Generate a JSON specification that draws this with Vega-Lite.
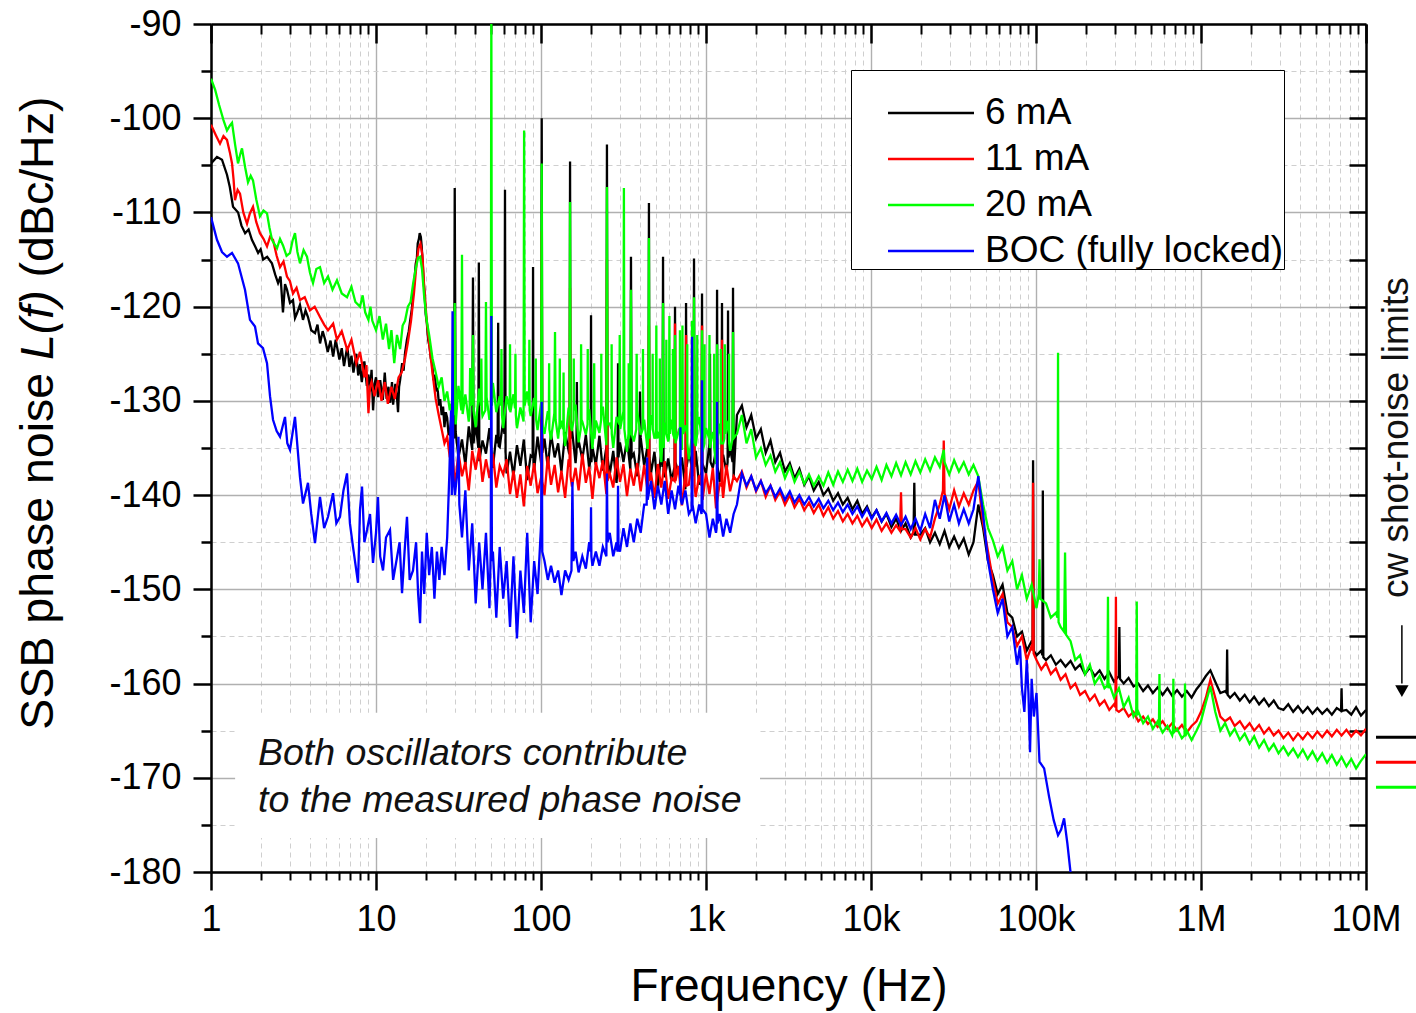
{
"$schema": "https://vega.github.io/schema/vega-lite/v6.json",
"width": 1155, "height": 848,
"autosize": {"type": "none"},
"padding": {"left": 211, "top": 24, "right": 50, "bottom": 141},
"background": "white",
"config": {
  "view": {"stroke": null},
  "font": "Liberation Sans",
  "axis": {"labelFont": "Liberation Sans", "titleFont": "Liberation Sans", "labelColor": "#000", "titleColor": "#000", "tickColor": "#000", "domainColor": "#000", "titleFontWeight": "normal"}
},
"resolve": {"axis": {"x": "independent", "y": "independent"}},
"layer": [
{
  "data": {"values": [{"f1": 1.40, "f2": 2125, "L1": -163.1, "L2": -176.4}]},
  "mark": {"type": "rect", "fill": "white", "stroke": null},
  "encoding": {
    "x": {"field": "f1", "type": "quantitative", "scale": {"type": "log", "domain": [1, 10000000], "nice": false}, "axis": null},
    "x2": {"field": "f2"},
    "y": {"field": "L1", "type": "quantitative", "scale": {"domain": [-180, -90], "nice": false, "zero": false}, "axis": null},
    "y2": {"field": "L2"}
  }
},
{
  "data": {"values": [
{"f":1.0,"L":-104.8},{"f":1.087,"L":-104.1},{"f":1.166,"L":-104.4},{"f":1.25,"L":-106.0},{"f":1.30,"L":-107.3},{"f":1.36,"L":-109.4},{"f":1.46,"L":-110.0},{"f":1.53,"L":-111.4},{"f":1.61,"L":-112.2},{"f":1.69,"L":-111.8},{"f":1.77,"L":-112.9},{"f":1.85,"L":-113.6},{"f":1.93,"L":-114.3},{"f":2.0,"L":-113.9},{"f":2.07,"L":-115.0},{"f":2.19,"L":-114.7},{"f":2.34,"L":-115.4},{"f":2.45,"L":-116.6},{"f":2.55,"L":-117.5},{"f":2.64,"L":-116.8},{"f":2.73,"L":-120.6},{"f":2.81,"L":-117.6},{"f":2.89,"L":-118.2},{"f":3.01,"L":-119.6},{"f":3.14,"L":-119.3},{"f":3.23,"L":-121.2},{"f":3.32,"L":-120.7},{"f":3.46,"L":-119.8},{"f":3.61,"L":-121.4},{"f":3.74,"L":-120.4},{"f":3.87,"L":-121.1},{"f":4.05,"L":-122.5},{"f":4.27,"L":-122.8},{"f":4.42,"L":-121.9},{"f":4.58,"L":-123.9},{"f":4.75,"L":-122.6},{"f":4.9,"L":-123.4},{"f":5.1,"L":-124.8},{"f":5.3,"L":-123.6},{"f":5.5,"L":-125.3},{"f":5.7,"L":-123.5},{"f":6.0,"L":-125.6},{"f":6.2,"L":-124.4},{"f":6.4,"L":-126.3},{"f":6.7,"L":-124.2},{"f":6.9,"L":-126.4},{"f":7.1,"L":-125.2},{"f":7.3,"L":-127.0},{"f":7.6,"L":-125.0},{"f":7.8,"L":-127.3},{"f":8.0,"L":-126.1},{"f":8.2,"L":-128.0},{"f":8.5,"L":-125.8},{"f":8.8,"L":-128.4},{"f":9.0,"L":-127.2},{"f":9.2,"L":-129.0},{"f":9.4,"L":-126.7},{"f":9.6,"L":-131.0},{"f":9.8,"L":-128.2},{"f":10.0,"L":-127.5},{"f":10.3,"L":-129.6},{"f":10.6,"L":-127.8},{"f":11.0,"L":-129.9},{"f":11.3,"L":-127.0},{"f":11.6,"L":-129.8},{"f":11.9,"L":-128.5},{"f":12.2,"L":-130.2},{"f":12.5,"L":-128.0},{"f":12.7,"L":-130.4},{"f":13.1,"L":-128.2},{"f":13.4,"L":-129.6},{"f":13.6,"L":-131.2},{"f":13.8,"L":-128.5},{"f":14.0,"L":-127.8},{"f":14.4,"L":-126.0},{"f":14.7,"L":-126.8},{"f":15.0,"L":-124.9},{"f":15.4,"L":-123.5},{"f":15.8,"L":-122.6},{"f":16.1,"L":-121.5},{"f":16.5,"L":-120.2},{"f":16.8,"L":-118.5},{"f":17.1,"L":-117.2},{"f":17.4,"L":-115.5},{"f":17.7,"L":-114.8},{"f":17.9,"L":-113.3},{"f":18.2,"L":-112.8},{"f":18.4,"L":-112.2},{"f":18.7,"L":-112.6},{"f":18.9,"L":-113.5},{"f":19.2,"L":-115.4},{"f":19.4,"L":-117.0},{"f":19.7,"L":-118.6},{"f":20.0,"L":-120.8},{"f":20.3,"L":-121.6},{"f":20.7,"L":-123.5},{"f":21.1,"L":-124.2},{"f":21.5,"L":-125.5},{"f":21.9,"L":-126.0},{"f":22.3,"L":-127.8},{"f":22.7,"L":-127.2},{"f":23.2,"L":-129.0},{"f":23.6,"L":-128.6},{"f":24.1,"L":-130.5},{"f":24.5,"L":-129.8},{"f":25.0,"L":-131.5},{"f":25.5,"L":-130.6},{"f":26.0,"L":-132.8},{"f":26.5,"L":-131.2},{"f":27.0,"L":-131.8},{"f":27.5,"L":-133.5},{"f":28.0,"L":-133.6},{"f":28.5,"L":-132.0},{"f":29.0,"L":-132.5},{"f":29.7,"L":-134.0},{"f":30.0,"L":-107.4},{"f":30.4,"L":-133.3},
{"f":31.6,"L":-136.0},{"f":33.2,"L":-134.1},{"f":34.8,"L":-136.8},{"f":36.5,"L":-132.7},{"f":38.3,"L":-135.2},{"f":38.7,"L":-116.9},{"f":39.0,"L":-134.5},{"f":40.2,"L":-132.4},{"f":41.7,"L":-135.0},{"f":42.0,"L":-115.3},{"f":42.3,"L":-136.4},{"f":44.2,"L":-134.2},{"f":46.4,"L":-135.6},{"f":48.7,"L":-132.9},{"f":51.1,"L":-137.1},{"f":53.6,"L":-133.6},{"f":54.6,"L":-134.5},{"f":55.0,"L":-121.7},{"f":55.4,"L":-134.8},{"f":56.2,"L":-134.9},{"f":59.0,"L":-132.1},{"f":60.0,"L":-133.5},{"f":60.5,"L":-107.6},{"f":61.0,"L":-135.5},{"f":61.9,"L":-137.7},{"f":64.9,"L":-135.4},{"f":68.1,"L":-138.0},{"f":71.5,"L":-134.7},{"f":75.0,"L":-136.9},{"f":78.7,"L":-134.1},{"f":82.5,"L":-138.4},{"f":86.6,"L":-135.8},{"f":89.0,"L":-136.0},{"f":89.5,"L":-115.8},{"f":90.0,"L":-136.5},{"f":90.9,"L":-137.3},{"f":95.3,"L":-133.8},{"f":100.2,"L":-136.6},{"f":101,"L":-100.0},{"f":101.8,"L":-135.5},{"f":105,"L":-134.0},{"f":110,"L":-137.1},{"f":115,"L":-133.5},{"f":121,"L":-136.0},{"f":127,"L":-134.5},{"f":133,"L":-137.5},{"f":140,"L":-133.3},{"f":147,"L":-135.3},{"f":149,"L":-135.0},{"f":150,"L":-104.6},{"f":151,"L":-134.0},{"f":154,"L":-133.0},{"f":162,"L":-136.6},{"f":164,"L":-135.5},{"f":165,"L":-128.0},{"f":166,"L":-135.0},{"f":169,"L":-134.2},{"f":178,"L":-136.2},{"f":187,"L":-133.6},{"f":196,"L":-137.2},{"f":200,"L":-136.0},{"f":201,"L":-120.9},{"f":202,"L":-136.5},{"f":205,"L":-134.9},{"f":215,"L":-136.8},{"f":226,"L":-133.7},{"f":237,"L":-137.4},{"f":249,"L":-134.9},{"f":251,"L":-102.8},{"f":253,"L":-136.0},{"f":261,"L":-137.8},{"f":274,"L":-135.3},{"f":287,"L":-138.7},{"f":291,"L":-137.0},{"f":293,"L":-126.0},{"f":295,"L":-136.0},{"f":301,"L":-134.4},{"f":316,"L":-136.5},{"f":332,"L":-134.1},{"f":348,"L":-137.3},{"f":351,"L":-114.7},{"f":354,"L":-136.0},{"f":365,"L":-135.6},{"f":383,"L":-138.0},{"f":395,"L":-135.5},{"f":398,"L":-129.0},{"f":402,"L":-133.9},{"f":422,"L":-136.9},{"f":442,"L":-134.8},{"f":448,"L":-136.0},{"f":451,"L":-109.0},{"f":454,"L":-136.0},{"f":464,"L":-137.7},{"f":487,"L":-135.4},{"f":511,"L":-139.3},{"f":536,"L":-135.2},{"f":545,"L":-137.0},{"f":549,"L":-114.7},{"f":553,"L":-137.5},{"f":562,"L":-138.1},{"f":590,"L":-136.1},{"f":619,"L":-138.5},{"f":645,"L":-137.0},{"f":649,"L":-120.0},{"f":653,"L":-136.5},{"f":681,"L":-137.7},{"f":715,"L":-136.0},{"f":750,"L":-139.4},{"f":752,"L":-138.0},{"f":757,"L":-119.6},{"f":762,"L":-137.0},{"f":787,"L":-135.5},{"f":825,"L":-137.2},{"f":840,"L":-136.5},{"f":846,"L":-114.9},{"f":852,"L":-137.0},{"f":866,"L":-135.3},{"f":909,"L":-138.9},{"f":940,"L":-137.5},{"f":946,"L":-118.6},{"f":950,"L":-136.5},{"f":953,"L":-136.7},{"f":1000,"L":-137.7},{"f":1050,"L":-134.5},{"f":1057,"L":-125.0},{"f":1065,"L":-136.5},{"f":1100,"L":-137.1},{"f":1150,"L":-135.2},{"f":1160,"L":-136.0},{"f":1167,"L":-118.2},{"f":1175,"L":-137.0},{"f":1210,"L":-138.6},{"f":1242,"L":-137.0},{"f":1250,"L":-119.6},{"f":1258,"L":-136.5},{"f":1270,"L":-135.7},{"f":1330,"L":-137.5},{"f":1352,"L":-136.5},{"f":1360,"L":-120.4},{"f":1368,"L":-136.0},{"f":1400,"L":-135.1},{"f":1449,"L":-136.5},{"f":1458,"L":-118.0},{"f":1470,"L":-138.1},
{"f":1540,"L":-131.5},{"f":1650,"L":-130.5},{"f":1760,"L":-132.8},{"f":1880,"L":-131.5},{"f":2010,"L":-134.0},{"f":2150,"L":-133.0},{"f":2300,"L":-135.5},{"f":2460,"L":-134.2},{"f":2630,"L":-136.5},{"f":2810,"L":-135.5},{"f":3010,"L":-137.5},{"f":3220,"L":-136.6},{"f":3440,"L":-138.2},{"f":3680,"L":-137.2},{"f":3940,"L":-138.9},{"f":4210,"L":-138.0},{"f":4500,"L":-139.5},{"f":4820,"L":-138.6},{"f":5150,"L":-140.0},{"f":5510,"L":-139.3},{"f":5900,"L":-140.6},{"f":6310,"L":-139.8},{"f":6750,"L":-141.0},{"f":7220,"L":-140.3},{"f":7720,"L":-141.5},{"f":8260,"L":-140.6},{"f":8840,"L":-142.0},{"f":9460,"L":-141.2},{"f":10100,"L":-142.4},{"f":10800,"L":-141.6},{"f":11600,"L":-142.8},{"f":12400,"L":-142.0},{"f":13300,"L":-143.4},{"f":14200,"L":-142.5},{"f":15200,"L":-143.8},{"f":16200,"L":-143.0},{"f":17400,"L":-144.5},{"f":18100,"L":-144.0},{"f":18300,"L":-138.7},{"f":18500,"L":-144.2},{"f":19900,"L":-144.2},{"f":21300,"L":-143.5},{"f":22800,"L":-145.0},{"f":24400,"L":-144.0},{"f":26100,"L":-145.2},{"f":27900,"L":-143.8},{"f":29800,"L":-145.5},{"f":31900,"L":-144.4},{"f":34100,"L":-145.6},{"f":36500,"L":-144.6},{"f":39100,"L":-146.3},{"f":41800,"L":-145.0},{"f":44700,"L":-141.0},
{"f":47800,"L":-143.5},{"f":51200,"L":-147.0},{"f":54800,"L":-148.5},{"f":58600,"L":-150.5},{"f":62700,"L":-149.5},{"f":67100,"L":-152.5},{"f":71800,"L":-153.0},{"f":76800,"L":-155.0},{"f":82200,"L":-154.5},{"f":87900,"L":-156.5},{"f":94100,"L":-155.5},{"f":95300,"L":-156.0},{"f":96000,"L":-136.3},{"f":96800,"L":-156.5},{"f":100700,"L":-157.0},{"f":107700,"L":-156.5},{"f":109300,"L":-157.0},{"f":110000,"L":-139.5},{"f":110800,"L":-157.2},{"f":115000,"L":-157.5},{"f":123000,"L":-157.0},{"f":132000,"L":-158.0},{"f":141000,"L":-157.5},{"f":151000,"L":-158.2},{"f":162000,"L":-157.6},{"f":173000,"L":-158.5},{"f":185000,"L":-158.0},{"f":198000,"L":-159.0},{"f":212000,"L":-158.3},{"f":227000,"L":-159.2},{"f":243000,"L":-158.6},{"f":260000,"L":-159.5},{"f":278000,"L":-158.8},{"f":297000,"L":-159.8},{"f":318000,"L":-159.2},{"f":320000,"L":-154.0},{"f":323000,"L":-159.5},{"f":340000,"L":-160.0},{"f":364000,"L":-159.4},{"f":390000,"L":-160.3},{"f":417000,"L":-160.0},{"f":446000,"L":-160.8},{"f":477000,"L":-160.2},{"f":511000,"L":-161.0},{"f":546000,"L":-160.4},{"f":585000,"L":-161.2},{"f":626000,"L":-160.5},{"f":669000,"L":-161.3},{"f":716000,"L":-160.7},{"f":766000,"L":-161.4},{"f":820000,"L":-160.8},{"f":877000,"L":-161.5},{"f":939000,"L":-160.6},{"f":1000000,"L":-160.0},{"f":1070000,"L":-159.2},{"f":1140000,"L":-158.6},{"f":1220000,"L":-159.8},{"f":1310000,"L":-161.0},{"f":1400000,"L":-160.8},{"f":1430000,"L":-161.0},{"f":1440000,"L":-156.4},{"f":1450000,"L":-161.2},{"f":1500000,"L":-161.5},{"f":1600000,"L":-161.0},{"f":1720000,"L":-161.8},{"f":1840000,"L":-161.2},{"f":1970000,"L":-162.0},{"f":2100000,"L":-161.4},{"f":2250000,"L":-162.2},{"f":2410000,"L":-161.6},{"f":2580000,"L":-162.4},{"f":2760000,"L":-161.8},{"f":2950000,"L":-162.6},{"f":3160000,"L":-162.8},{"f":3380000,"L":-162.2},{"f":3620000,"L":-163.0},{"f":3870000,"L":-162.4},{"f":4140000,"L":-163.1},{"f":4430000,"L":-162.5},{"f":4740000,"L":-163.2},{"f":5070000,"L":-162.6},{"f":5430000,"L":-163.2},{"f":5810000,"L":-162.7},{"f":6210000,"L":-163.3},{"f":6650000,"L":-162.6},{"f":7060000,"L":-162.9},{"f":7110000,"L":-160.5},{"f":7160000,"L":-162.9},{"f":7610000,"L":-162.8},{"f":8140000,"L":-163.3},{"f":8710000,"L":-162.5},{"f":9320000,"L":-163.4},{"f":10000000,"L":-162.8}
  ]},
  "mark": {"type": "line", "strokeWidth": 2.3, "clip": true},
  "encoding": {
    "x": {"field": "f", "type": "quantitative", "scale": {"type": "log", "domain": [1, 10000000], "nice": false},
      "axis": {"orient": "bottom", "values": [1, 10, 100, 1000, 10000, 100000, 1000000, 10000000],
        "labelExpr": "datum.value >= 1000000 ? (datum.value/1000000) + 'M' : datum.value >= 1000 ? (datum.value/1000) + 'k' : '' + datum.value",
        "labelFontSize": 36, "labelPadding": 12, "labelFlush": false, "labelOverlap": false, "labelBound": false,
        "tickSize": 18, "tickWidth": 2.5, "domainWidth": 2.5, "grid": true, "gridColor": "#b0b0b0", "gridWidth": 1.4,
        "title": "Frequency (Hz)", "titleFontSize": 46, "titleY": 128, "titleBaseline": "alphabetic"}},
    "y": {"field": "L", "type": "quantitative", "scale": {"domain": [-180, -90], "nice": false, "zero": false},
      "axis": {"orient": "left", "values": [-180, -170, -160, -150, -140, -130, -120, -110, -100, -90],
        "labelExpr": "'' + datum.value", "labelFontSize": 36, "labelPadding": 12, "labelFlush": false, "labelOverlap": false,
        "tickSize": 18, "tickWidth": 2.5, "domainWidth": 2.5, "grid": true, "gridColor": "#b0b0b0", "gridWidth": 1.4,
        "title": "SSB phase noise", "titleFontSize": 46.5, "titleAngle": 270, "titleX": -159, "titleY": 526.75, "titleAlign": "center", "titleBaseline": "alphabetic"}},
    "color": {"datum": "6 mA", "type": "nominal",
      "scale": {"domain": ["6 mA", "11 mA", "20 mA", "BOC (fully locked)"], "range": ["#000000", "#ff0000", "#00ff00", "#0000ff"]},
      "legend": {"title": "\u00a0\u00a0\u00a0\u00a0\u00a0\u00a0\u00a0\u00a0\u00a0\u00a0\u00a0\u00a0\u00a0\u00a0\u00a0\u00a0\u00a0\u00a0\u00a0\u00a0\u00a0\u00a0\u00a0\u00a0\u00a0\u00a0\u00a0\u00a0\u00a0\u00a0\u00a0\u00a0\u00a0\u00a0\u00a0\u00a0\u00a0\u00a0\u00a0\u00a0\u00a0\u00a0\u00a0\u00a0\u00a0\u00a0\u00a0\u00a0\u00a0\u00a0\u00a0\u00a0\u00a0\u00a0\u00a0\u00a0\u00a0\u00a0\u00a0\u00a0\u00a0\u00a0\u00a0\u00a0\u00a0\u00a0\u00a0\u00a0\u00a0\u00a0\u00a0\u00a0\u00a0\u00a0\u00a0\u00a0\u00a0\u00a0\u00a0\u00a0\u00a0\u00a0\u00a0\u00a0\u00a0\u00a0\u00a0\u00a0\u00a0\u00a0\u00a0\u00a0\u00a0\u00a0\u00a0\u00a0\u00a0\u00a0\u00a0\u00a0\u00a0\u00a0\u00a0\u00a0\u00a0\u00a0\u00a0\u00a0\u00a0\u00a0\u00a0\u00a0\u00a0\u00a0\u00a0\u00a0\u00a0\u00a0\u00a0\u00a0\u00a0\u00a0\u00a0\u00a0\u00a0\u00a0\u00a0\u00a0\u00a0\u00a0\u00a0\u00a0\u00a0\u00a0\u00a0\u00a0\u00a0", "titleFontSize": 12, "titlePadding": 8, "titleLimit": 2000, "orient": "none", "legendX": 640, "legendY": 46, "padding": 0, "strokeColor": "#000", "fillColor": "#fff",
        "labelFont": "Liberation Sans", "labelFontSize": 37, "labelColor": "#000", "labelOffset": 88, "labelLimit": 600,
        "symbolType": "M0.651,0H4.651", "symbolSize": 1849, "symbolStrokeWidth": 2.5, "rowPadding": 5}}
  }
},
{
  "data": {"values": [
{"f":1.0,"L":-100.7},{"f":1.07,"L":-101.8},{"f":1.134,"L":-102.7},{"f":1.19,"L":-101.9},{"f":1.25,"L":-102.3},{"f":1.30,"L":-103.6},{"f":1.341,"L":-104.8},{"f":1.37,"L":-106.5},{"f":1.398,"L":-108.7},{"f":1.45,"L":-107.6},{"f":1.499,"L":-108.0},{"f":1.57,"L":-110.0},{"f":1.653,"L":-111.2},{"f":1.72,"L":-110.1},{"f":1.797,"L":-109.4},{"f":1.88,"L":-111.0},{"f":1.98,"L":-112.2},{"f":2.08,"L":-112.8},{"f":2.185,"L":-113.6},{"f":2.28,"L":-112.6},{"f":2.376,"L":-112.9},{"f":2.5,"L":-114.6},{"f":2.62,"L":-115.8},{"f":2.75,"L":-115.2},{"f":2.887,"L":-116.8},{"f":3.01,"L":-117.3},{"f":3.14,"L":-118.6},{"f":3.3,"L":-118.0},{"f":3.462,"L":-119.3},{"f":3.7,"L":-119.0},{"f":3.98,"L":-120.4},{"f":4.25,"L":-120.0},{"f":4.577,"L":-121.1},{"f":4.85,"L":-121.9},{"f":5.119,"L":-122.5},{"f":5.5,"L":-121.8},{"f":5.8,"L":-123.5},{"f":6.2,"L":-122.6},{"f":6.7,"L":-124.6},{"f":7.1,"L":-123.5},{"f":7.6,"L":-126.0},{"f":8.0,"L":-124.8},{"f":8.5,"L":-127.5},{"f":8.75,"L":-126.2},{"f":9.0,"L":-131.3},{"f":9.2,"L":-128.5},{"f":9.4,"L":-128.0},{"f":9.8,"L":-129.5},{"f":10.3,"L":-127.8},{"f":10.8,"L":-130.0},{"f":11.3,"L":-128.0},{"f":11.8,"L":-130.3},{"f":12.4,"L":-128.5},{"f":13.0,"L":-129.8},{"f":13.7,"L":-127.5},{"f":14.3,"L":-127.0},{"f":15.0,"L":-125.5},{"f":15.6,"L":-123.8},{"f":16.3,"L":-121.5},{"f":17.0,"L":-118.5},{"f":17.6,"L":-115.5},{"f":18.1,"L":-113.8},{"f":18.6,"L":-113.3},{"f":19.1,"L":-114.5},{"f":19.6,"L":-118.0},{"f":20.3,"L":-121.5},{"f":21.0,"L":-124.0},{"f":22.0,"L":-127.0},{"f":23.0,"L":-129.8},{"f":24.0,"L":-131.5},{"f":25.0,"L":-133.0},{"f":26.0,"L":-134.5},{"f":27.0,"L":-133.8},{"f":28.0,"L":-136.0},{"f":29.0,"L":-135.2},
{"f":30.1,"L":-139.1},{"f":31.6,"L":-135.5},{"f":33.2,"L":-138.0},{"f":34.8,"L":-136.5},{"f":36.5,"L":-139.5},{"f":38.3,"L":-135.3},{"f":40.2,"L":-137.3},{"f":42.2,"L":-135.0},{"f":44.2,"L":-138.6},{"f":46.4,"L":-136.2},{"f":48.7,"L":-138.2},{"f":51.1,"L":-135.6},{"f":53.6,"L":-139.2},{"f":56.2,"L":-136.9},{"f":59.0,"L":-137.8},{"f":61.9,"L":-136.2},{"f":64.9,"L":-139.9},{"f":68.1,"L":-137.4},{"f":71.5,"L":-140.3},{"f":75.0,"L":-137.8},{"f":78.7,"L":-141.2},{"f":82.5,"L":-136.9},{"f":86.6,"L":-139.0},{"f":90.9,"L":-136.6},{"f":95.3,"L":-139.8},{"f":100.2,"L":-138.1},{"f":101,"L":-112.0},{"f":101.8,"L":-138.5},{"f":105,"L":-140.0},{"f":110,"L":-135.9},{"f":115,"L":-138.9},{"f":121,"L":-136.8},{"f":127,"L":-139.7},{"f":133,"L":-137.4},{"f":140,"L":-140.3},{"f":147,"L":-136.2},{"f":149,"L":-137.0},{"f":150,"L":-118.0},{"f":151,"L":-138.0},{"f":154,"L":-139.1},{"f":162,"L":-137.1},{"f":169,"L":-139.5},{"f":178,"L":-135.6},{"f":187,"L":-138.7},{"f":196,"L":-137.0},{"f":205,"L":-140.4},{"f":215,"L":-136.5},{"f":226,"L":-138.2},{"f":237,"L":-136.3},{"f":249,"L":-139.9},{"f":251,"L":-115.0},{"f":253,"L":-138.5},{"f":261,"L":-137.7},{"f":274,"L":-139.2},{"f":287,"L":-136.0},{"f":301,"L":-138.6},{"f":316,"L":-136.7},{"f":332,"L":-140.1},{"f":348,"L":-137.2},{"f":365,"L":-139.0},{"f":383,"L":-136.6},{"f":402,"L":-139.6},{"f":422,"L":-136.8},{"f":442,"L":-139.5},{"f":448,"L":-138.0},{"f":451,"L":-122.0},{"f":454,"L":-138.5},{"f":464,"L":-137.6},{"f":487,"L":-140.3},{"f":511,"L":-136.7},{"f":536,"L":-139.2},{"f":562,"L":-136.4},{"f":590,"L":-140.4},{"f":619,"L":-138.2},{"f":645,"L":-138.5},{"f":649,"L":-121.8},{"f":653,"L":-138.5},{"f":681,"L":-136.9},{"f":715,"L":-141.1},{"f":750,"L":-137.6},{"f":752,"L":-138.5},{"f":757,"L":-123.0},{"f":762,"L":-139.0},{"f":787,"L":-138.9},{"f":825,"L":-136.1},{"f":840,"L":-138.0},{"f":846,"L":-125.0},{"f":852,"L":-139.0},{"f":866,"L":-140.2},{"f":909,"L":-137.9},{"f":940,"L":-139.0},{"f":946,"L":-122.0},{"f":950,"L":-139.5},{"f":953,"L":-140.5},{"f":1000,"L":-137.7},{"f":1050,"L":-139.9},{"f":1100,"L":-137.1},{"f":1150,"L":-141.4},{"f":1210,"L":-138.8},{"f":1242,"L":-139.0},{"f":1250,"L":-123.5},{"f":1258,"L":-139.5},{"f":1270,"L":-140.3},{"f":1330,"L":-136.8},{"f":1400,"L":-139.6},{"f":1470,"L":-138.0},
{"f":1540,"L":-138.5},{"f":1650,"L":-137.5},{"f":1760,"L":-139.2},{"f":1880,"L":-138.0},{"f":2010,"L":-139.6},{"f":2150,"L":-138.5},{"f":2300,"L":-140.2},{"f":2460,"L":-139.0},{"f":2630,"L":-140.5},{"f":2810,"L":-139.6},{"f":3010,"L":-141.0},{"f":3220,"L":-140.0},{"f":3440,"L":-141.3},{"f":3680,"L":-140.4},{"f":3940,"L":-141.6},{"f":4210,"L":-140.8},{"f":4500,"L":-141.9},{"f":4820,"L":-141.0},{"f":5150,"L":-142.2},{"f":5510,"L":-141.3},{"f":5900,"L":-142.5},{"f":6310,"L":-141.7},{"f":6750,"L":-142.8},{"f":7220,"L":-142.0},{"f":7720,"L":-143.0},{"f":8260,"L":-142.2},{"f":8840,"L":-143.3},{"f":9460,"L":-142.5},{"f":10100,"L":-143.5},{"f":10800,"L":-142.6},{"f":11600,"L":-143.8},{"f":12400,"L":-143.0},{"f":13300,"L":-144.0},{"f":14200,"L":-143.2},{"f":15000,"L":-143.8},{"f":15200,"L":-139.7},{"f":15400,"L":-143.6},{"f":16200,"L":-143.6},{"f":17400,"L":-144.5},{"f":18600,"L":-143.5},{"f":19900,"L":-144.7},{"f":21300,"L":-143.6},{"f":22800,"L":-144.5},{"f":24400,"L":-142.5},{"f":26100,"L":-141.0},{"f":27300,"L":-139.5},{"f":27600,"L":-134.2},{"f":27900,"L":-139.8},{"f":29800,"L":-141.5},{"f":31900,"L":-139.5},{"f":34100,"L":-141.2},{"f":36500,"L":-139.8},{"f":39100,"L":-141.0},{"f":41800,"L":-139.5},{"f":44700,"L":-138.5},
{"f":47800,"L":-143.0},{"f":51200,"L":-146.0},{"f":54800,"L":-149.0},{"f":58600,"L":-151.5},{"f":62700,"L":-150.5},{"f":67100,"L":-153.5},{"f":71800,"L":-154.0},{"f":76800,"L":-156.0},{"f":82200,"L":-155.0},{"f":87900,"L":-157.5},{"f":94100,"L":-156.0},{"f":95300,"L":-156.5},{"f":96000,"L":-138.7},{"f":96800,"L":-156.8},{"f":100700,"L":-157.5},{"f":107700,"L":-158.5},{"f":115000,"L":-157.8},{"f":123000,"L":-159.0},{"f":132000,"L":-158.4},{"f":141000,"L":-159.6},{"f":151000,"L":-159.0},{"f":162000,"L":-160.5},{"f":173000,"L":-160.0},{"f":185000,"L":-161.2},{"f":198000,"L":-160.8},{"f":212000,"L":-161.8},{"f":227000,"L":-161.2},{"f":243000,"L":-162.3},{"f":260000,"L":-161.8},{"f":278000,"L":-162.8},{"f":297000,"L":-162.2},{"f":303000,"L":-162.5},{"f":305000,"L":-150.8},{"f":307000,"L":-162.8},{"f":318000,"L":-163.0},{"f":340000,"L":-162.6},{"f":364000,"L":-163.5},{"f":390000,"L":-163.0},{"f":417000,"L":-164.0},{"f":446000,"L":-163.5},{"f":477000,"L":-164.3},{"f":511000,"L":-163.8},{"f":546000,"L":-164.6},{"f":585000,"L":-164.0},{"f":626000,"L":-164.8},{"f":669000,"L":-164.2},{"f":716000,"L":-165.0},{"f":766000,"L":-164.4},{"f":820000,"L":-165.2},{"f":877000,"L":-164.5},{"f":939000,"L":-164.0},{"f":1000000,"L":-163.0},{"f":1070000,"L":-161.5},{"f":1140000,"L":-159.6},{"f":1220000,"L":-161.5},{"f":1310000,"L":-163.5},{"f":1400000,"L":-164.0},{"f":1500000,"L":-163.6},{"f":1600000,"L":-164.5},{"f":1720000,"L":-164.0},{"f":1840000,"L":-164.8},{"f":1970000,"L":-164.2},{"f":2100000,"L":-165.0},{"f":2250000,"L":-164.4},{"f":2410000,"L":-165.3},{"f":2580000,"L":-164.7},{"f":2760000,"L":-165.5},{"f":2950000,"L":-165.0},{"f":3160000,"L":-165.8},{"f":3380000,"L":-165.2},{"f":3620000,"L":-166.0},{"f":3870000,"L":-165.3},{"f":4140000,"L":-165.9},{"f":4430000,"L":-165.2},{"f":4740000,"L":-165.8},{"f":5070000,"L":-165.1},{"f":5430000,"L":-165.7},{"f":5810000,"L":-165.0},{"f":6210000,"L":-165.6},{"f":6650000,"L":-164.9},{"f":7110000,"L":-165.5},{"f":7610000,"L":-164.9},{"f":8140000,"L":-165.6},{"f":8710000,"L":-165.0},{"f":9320000,"L":-165.5},{"f":10000000,"L":-164.8}
  ]},
  "mark": {"type": "line", "strokeWidth": 2.3, "clip": true},
  "encoding": {
    "x": {"field": "f", "type": "quantitative", "scale": {"type": "log", "domain": [1, 10000000], "nice": false},
      "axis": {"orient": "bottom", "values": [2,3,4,5,6,7,8,9,20,30,40,50,60,70,80,90,200,300,400,500,600,700,800,900,2000,3000,4000,5000,6000,7000,8000,9000,20000,30000,40000,50000,60000,70000,80000,90000,200000,300000,400000,500000,600000,700000,800000,900000,2000000,3000000,4000000,5000000,6000000,7000000,8000000,9000000],
        "labels": false, "domain": false, "tickSize": 8, "tickWidth": 2, "grid": true, "gridColor": "#cfcfcf", "gridDash": [5, 4], "gridWidth": 1, "title": null}},
    "y": {"field": "L", "type": "quantitative", "scale": {"domain": [-180, -90], "nice": false, "zero": false},
      "axis": {"orient": "left", "values": [-175, -165, -155, -145, -135, -125, -115, -105, -95],
        "labels": false, "domain": false, "tickSize": 10, "tickWidth": 2.5, "grid": true, "gridColor": "#cfcfcf", "gridDash": [5, 4], "gridWidth": 1,
        "title": "L(f)", "titleFontSize": 46.5, "titleFontStyle": "italic", "titleAngle": 270, "titleX": -159, "titleY": 300.7, "titleAlign": "center", "titleBaseline": "alphabetic"}},
    "color": {"datum": "11 mA", "type": "nominal", "scale": {"domain": ["6 mA", "11 mA", "20 mA", "BOC (fully locked)"], "range": ["#000000", "#ff0000", "#00ff00", "#0000ff"]}}
  }
},
{
  "data": {"values": [
{"f":1.0,"L":-95.8},{"f":1.06,"L":-97.0},{"f":1.12,"L":-98.6},{"f":1.19,"L":-100.2},{"f":1.25,"L":-101.3},{"f":1.30,"L":-100.8},{"f":1.341,"L":-100.5},{"f":1.40,"L":-102.8},{"f":1.458,"L":-104.8},{"f":1.50,"L":-103.9},{"f":1.541,"L":-103.2},{"f":1.61,"L":-105.2},{"f":1.676,"L":-106.8},{"f":1.74,"L":-106.1},{"f":1.797,"L":-106.6},{"f":1.88,"L":-108.6},{"f":1.98,"L":-110.4},{"f":2.08,"L":-109.8},{"f":2.185,"L":-110.1},{"f":2.26,"L":-111.6},{"f":2.343,"L":-112.9},{"f":2.43,"L":-113.4},{"f":2.512,"L":-113.8},{"f":2.62,"L":-112.8},{"f":2.732,"L":-113.5},{"f":2.87,"L":-114.6},{"f":3.012,"L":-114.3},{"f":3.12,"L":-113.0},{"f":3.229,"L":-112.2},{"f":3.34,"L":-114.2},{"f":3.462,"L":-115.4},{"f":3.64,"L":-114.0},{"f":3.818,"L":-114.7},{"f":3.98,"L":-116.4},{"f":4.152,"L":-117.5},{"f":4.35,"L":-116.0},{"f":4.577,"L":-115.8},{"f":4.85,"L":-117.5},{"f":5.119,"L":-116.8},{"f":5.45,"L":-118.2},{"f":5.801,"L":-117.2},{"f":6.2,"L":-118.6},{"f":6.673,"L":-119.0},{"f":7.1,"L":-117.9},{"f":7.5,"L":-119.5},{"f":8.0,"L":-120.0},{"f":8.3,"L":-118.8},{"f":8.6,"L":-120.6},{"f":9.0,"L":-121.4},{"f":9.25,"L":-120.0},{"f":9.5,"L":-121.5},{"f":10.0,"L":-122.5},{"f":10.5,"L":-121.0},{"f":11.0,"L":-123.5},{"f":11.5,"L":-121.8},{"f":12.0,"L":-124.5},{"f":12.4,"L":-122.5},{"f":12.9,"L":-126.0},{"f":13.4,"L":-123.0},{"f":14.0,"L":-124.5},{"f":14.5,"L":-122.0},{"f":15.0,"L":-121.5},{"f":15.6,"L":-120.0},{"f":16.2,"L":-119.5},{"f":16.8,"L":-117.5},{"f":17.4,"L":-116.0},{"f":18.0,"L":-114.8},{"f":18.5,"L":-114.7},{"f":19.0,"L":-116.0},{"f":19.6,"L":-119.0},{"f":20.3,"L":-121.5},{"f":21.0,"L":-123.0},{"f":22.0,"L":-125.5},{"f":23.0,"L":-127.0},{"f":24.0,"L":-128.5},{"f":25.0,"L":-127.5},{"f":26.0,"L":-130.0},{"f":27.0,"L":-129.0},{"f":28.0,"L":-131.0},{"f":29.0,"L":-130.0},{"f":29.7,"L":-131.5},{"f":30.0,"L":-119.6},{"f":30.4,"L":-132.5},
{"f":31.6,"L":-128.4},{"f":32.9,"L":-131.0},{"f":33.2,"L":-114.5},{"f":33.5,"L":-131.4},{"f":34.8,"L":-129.3},{"f":36.5,"L":-132.2},{"f":36.9,"L":-131.5},{"f":37.2,"L":-126.5},{"f":37.5,"L":-130.5},{"f":38.3,"L":-129.9},{"f":38.7,"L":-123.0},{"f":39.0,"L":-131.0},{"f":40.2,"L":-132.8},{"f":42.2,"L":-128.7},{"f":43.2,"L":-130.5},{"f":43.5,"L":-125.5},{"f":43.8,"L":-131.0},{"f":44.2,"L":-131.6},{"f":46.0,"L":-131.0},{"f":46.4,"L":-119.5},{"f":46.8,"L":-129.6},{"f":48.7,"L":-132.0},{"f":49.6,"L":-131.5},{"f":50.0,"L":-88.0},{"f":50.4,"L":-130.5},{"f":51.1,"L":-128.1},{"f":53.6,"L":-131.2},{"f":56.2,"L":-129.5},{"f":57.2,"L":-130.5},{"f":57.6,"L":-124.5},{"f":58.0,"L":-131.5},{"f":59.0,"L":-132.9},{"f":61.9,"L":-129.5},{"f":64.6,"L":-131.0},{"f":64.9,"L":-124.0},{"f":65.2,"L":-131.2},{"f":68.1,"L":-129.3},{"f":69.6,"L":-130.8},{"f":70.0,"L":-125.0},{"f":70.4,"L":-131.5},{"f":71.5,"L":-132.9},{"f":75.0,"L":-130.7},{"f":78.4,"L":-132.2},{"f":79.0,"L":-101.3},{"f":79.6,"L":-130.5},{"f":82.5,"L":-129.0},{"f":84.6,"L":-130.5},{"f":85.0,"L":-123.5},{"f":85.4,"L":-131.0},{"f":86.6,"L":-131.6},{"f":90.9,"L":-129.7},{"f":92.6,"L":-131.0},{"f":93.0,"L":-125.5},{"f":93.4,"L":-132.0},{"f":95.3,"L":-133.1},{"f":100.2,"L":-130.2},{"f":101,"L":-104.8},{"f":101.8,"L":-132.5},{"f":105,"L":-133.5},{"f":110,"L":-131.1},{"f":111.6,"L":-132.0},{"f":112.0,"L":-126.0},{"f":112.4,"L":-133.0},{"f":115,"L":-134.1},{"f":120.5,"L":-131.3},{"f":121.6,"L":-122.7},{"f":122.6,"L":-132.0},{"f":127,"L":-134.0},{"f":129.5,"L":-132.5},{"f":130,"L":-125.5},{"f":130.5,"L":-133.0},{"f":133,"L":-132.1},{"f":136.5,"L":-133.0},{"f":137,"L":-127.0},{"f":137.5,"L":-133.5},{"f":140,"L":-134.8},{"f":147,"L":-130.7},{"f":149,"L":-131.5},{"f":150,"L":-108.9},{"f":151,"L":-132.5},{"f":154,"L":-133.2},{"f":157.5,"L":-132.0},{"f":158,"L":-125.5},{"f":158.5,"L":-131.0},{"f":162,"L":-130.4},{"f":169,"L":-134.4},{"f":174,"L":-133.0},{"f":175,"L":-124.0},{"f":176,"L":-132.0},{"f":178,"L":-132.2},{"f":187,"L":-133.6},{"f":191.5,"L":-132.5},{"f":192,"L":-124.5},{"f":192.5,"L":-132.0},{"f":196,"L":-130.9},{"f":205,"L":-135.1},{"f":209,"L":-133.0},{"f":210,"L":-126.0},{"f":211,"L":-134.0},{"f":215,"L":-132.1},{"f":226,"L":-133.4},{"f":231.5,"L":-132.0},{"f":232,"L":-125.0},{"f":232.5,"L":-131.5},{"f":237,"L":-130.6},{"f":249,"L":-134.7},{"f":251,"L":-107.3},{"f":253,"L":-132.5},{"f":261,"L":-132.4},{"f":267.5,"L":-133.0},{"f":268,"L":-124.0},{"f":268.5,"L":-133.5},{"f":274,"L":-135.0},{"f":287,"L":-131.7},{"f":298,"L":-132.5},{"f":300,"L":-123.0},{"f":302,"L":-133.0},{"f":316,"L":-131.1},{"f":318,"L":-107.4},{"f":320,"L":-133.0},{"f":332,"L":-135.4},{"f":339,"L":-133.5},{"f":340,"L":-126.0},{"f":341,"L":-134.0},{"f":348,"L":-132.8},{"f":351,"L":-118.2},{"f":354,"L":-133.5},{"f":365,"L":-134.3},{"f":378,"L":-133.0},{"f":380,"L":-125.0},{"f":382,"L":-131.0},{"f":402,"L":-133.6},{"f":414,"L":-133.0},{"f":415,"L":-124.5},{"f":416,"L":-132.5},{"f":422,"L":-132.0},{"f":442,"L":-135.1},{"f":448,"L":-133.0},{"f":451,"L":-112.7},{"f":454,"L":-134.0},{"f":464,"L":-131.5},{"f":474,"L":-132.5},{"f":475,"L":-125.0},{"f":476,"L":-133.0},{"f":487,"L":-134.0},{"f":497,"L":-133.5},{"f":500,"L":-122.0},{"f":503,"L":-134.0},{"f":511,"L":-133.5},{"f":524,"L":-134.0},{"f":525,"L":-125.5},{"f":526,"L":-135.0},{"f":536,"L":-136.5},{"f":545,"L":-134.0},{"f":549,"L":-119.6},{"f":553,"L":-135.0},{"f":562,"L":-132.3},{"f":574,"L":-133.0},{"f":575,"L":-123.5},{"f":576,"L":-133.5},{"f":590,"L":-134.3},{"f":596,"L":-134.0},{"f":600,"L":-121.0},{"f":604,"L":-133.5},{"f":619,"L":-132.0},{"f":629,"L":-133.0},{"f":630,"L":-124.5},{"f":631,"L":-133.5},{"f":645,"L":-134.0},{"f":649,"L":-123.0},{"f":653,"L":-134.5},{"f":681,"L":-133.2},{"f":694,"L":-133.5},{"f":695,"L":-122.5},{"f":696,"L":-134.0},{"f":715,"L":-135.2},{"f":720,"L":-122.0},{"f":725,"L":-133.5},{"f":750,"L":-132.6},{"f":769,"L":-133.5},{"f":770,"L":-124.0},{"f":771,"L":-134.5},{"f":787,"L":-136.2},{"f":818,"L":-134.0},{"f":823,"L":-121.5},{"f":827,"L":-133.5},{"f":840,"L":-134.5},{"f":846,"L":-119.0},{"f":852,"L":-134.0},{"f":866,"L":-134.8},{"f":884,"L":-133.5},{"f":885,"L":-123.0},{"f":886,"L":-132.5},{"f":909,"L":-131.7},{"f":940,"L":-134.0},{"f":946,"L":-122.5},{"f":950,"L":-134.5},{"f":953,"L":-135.4},{"f":979,"L":-134.5},{"f":980,"L":-124.0},{"f":981,"L":-134.0},{"f":1000,"L":-132.9},{"f":1046,"L":-134.0},{"f":1050,"L":-123.0},{"f":1055,"L":-135.0},{"f":1100,"L":-133.3},{"f":1119,"L":-134.0},{"f":1120,"L":-125.0},{"f":1121,"L":-135.0},{"f":1150,"L":-136.7},{"f":1160,"L":-135.0},{"f":1167,"L":-124.0},{"f":1175,"L":-134.0},{"f":1210,"L":-132.4},{"f":1229,"L":-133.5},{"f":1230,"L":-124.5},{"f":1231,"L":-134.5},{"f":1270,"L":-134.5},{"f":1293,"L":-134.0},{"f":1300,"L":-124.0},{"f":1307,"L":-133.5},{"f":1330,"L":-132.1},{"f":1379,"L":-133.5},{"f":1380,"L":-125.0},{"f":1381,"L":-134.5},{"f":1400,"L":-135.3},{"f":1449,"L":-134.0},{"f":1458,"L":-122.7},{"f":1467,"L":-134.0},
{"f":1540,"L":-133.5},{"f":1650,"L":-131.5},{"f":1760,"L":-134.5},{"f":1880,"L":-133.0},{"f":2010,"L":-136.0},{"f":2150,"L":-135.0},{"f":2300,"L":-136.8},{"f":2460,"L":-135.8},{"f":2630,"L":-137.5},{"f":2810,"L":-136.5},{"f":3010,"L":-138.2},{"f":3220,"L":-137.0},{"f":3440,"L":-138.6},{"f":3680,"L":-137.5},{"f":3940,"L":-138.8},{"f":4210,"L":-137.8},{"f":4500,"L":-139.0},{"f":4820,"L":-138.0},{"f":5150,"L":-139.0},{"f":5510,"L":-137.6},{"f":5900,"L":-138.9},{"f":6310,"L":-137.5},{"f":6750,"L":-138.6},{"f":7220,"L":-137.3},{"f":7720,"L":-138.5},{"f":8260,"L":-137.2},{"f":8840,"L":-138.6},{"f":9460,"L":-137.4},{"f":10100,"L":-138.3},{"f":10800,"L":-137.0},{"f":11600,"L":-138.4},{"f":12400,"L":-136.8},{"f":13300,"L":-138.0},{"f":14200,"L":-136.6},{"f":15200,"L":-137.9},{"f":16200,"L":-136.5},{"f":17400,"L":-137.8},{"f":18600,"L":-136.4},{"f":19900,"L":-137.6},{"f":21300,"L":-136.2},{"f":22800,"L":-137.4},{"f":24400,"L":-136.0},{"f":26100,"L":-137.0},{"f":27600,"L":-135.2},{"f":27900,"L":-136.5},{"f":29800,"L":-137.8},{"f":31900,"L":-136.3},{"f":34100,"L":-137.5},{"f":36500,"L":-136.5},{"f":39100,"L":-137.8},{"f":41800,"L":-136.8},{"f":44700,"L":-138.0},
{"f":47800,"L":-141.0},{"f":51200,"L":-143.5},{"f":54800,"L":-144.8},{"f":58600,"L":-146.5},{"f":62700,"L":-145.5},{"f":67100,"L":-148.0},{"f":71800,"L":-147.0},{"f":76800,"L":-150.0},{"f":82200,"L":-148.5},{"f":87900,"L":-151.0},{"f":94100,"L":-149.5},{"f":100700,"L":-152.0},{"f":104000,"L":-150.5},{"f":105000,"L":-146.8},{"f":106000,"L":-151.0},{"f":115000,"L":-151.5},{"f":123000,"L":-153.0},{"f":132000,"L":-152.5},{"f":135000,"L":-153.0},{"f":136000,"L":-124.9},{"f":137000,"L":-153.5},{"f":141000,"L":-154.0},{"f":148000,"L":-154.5},{"f":150000,"L":-146.1},{"f":152000,"L":-154.8},{"f":162000,"L":-155.5},{"f":173000,"L":-157.5},{"f":185000,"L":-157.0},{"f":198000,"L":-159.0},{"f":212000,"L":-158.0},{"f":227000,"L":-160.0},{"f":243000,"L":-159.2},{"f":260000,"L":-160.5},{"f":271000,"L":-160.2},{"f":273000,"L":-150.8},{"f":275000,"L":-160.5},{"f":278000,"L":-160.0},{"f":297000,"L":-161.5},{"f":318000,"L":-160.5},{"f":340000,"L":-162.5},{"f":364000,"L":-161.5},{"f":390000,"L":-163.5},{"f":405000,"L":-163.0},{"f":408000,"L":-151.3},{"f":411000,"L":-163.2},{"f":417000,"L":-163.0},{"f":446000,"L":-164.2},{"f":477000,"L":-163.5},{"f":511000,"L":-164.8},{"f":546000,"L":-164.0},{"f":556000,"L":-164.5},{"f":560000,"L":-159.0},{"f":564000,"L":-164.6},{"f":585000,"L":-165.2},{"f":626000,"L":-164.5},{"f":669000,"L":-165.5},{"f":676000,"L":-165.0},{"f":680000,"L":-159.5},{"f":684000,"L":-165.2},{"f":716000,"L":-164.8},{"f":766000,"L":-165.8},{"f":795000,"L":-165.5},{"f":800000,"L":-160.0},{"f":805000,"L":-165.6},{"f":820000,"L":-165.0},{"f":877000,"L":-166.0},{"f":939000,"L":-165.0},{"f":1000000,"L":-164.0},{"f":1070000,"L":-162.0},{"f":1140000,"L":-160.3},{"f":1220000,"L":-163.0},{"f":1310000,"L":-165.0},{"f":1400000,"L":-164.2},{"f":1500000,"L":-165.5},{"f":1600000,"L":-164.8},{"f":1720000,"L":-166.0},{"f":1840000,"L":-165.3},{"f":1970000,"L":-166.4},{"f":2100000,"L":-165.6},{"f":2250000,"L":-166.8},{"f":2410000,"L":-166.0},{"f":2580000,"L":-167.1},{"f":2760000,"L":-166.4},{"f":2950000,"L":-167.4},{"f":3160000,"L":-166.7},{"f":3380000,"L":-167.6},{"f":3620000,"L":-166.9},{"f":3870000,"L":-167.8},{"f":4140000,"L":-167.0},{"f":4430000,"L":-168.0},{"f":4740000,"L":-167.2},{"f":5070000,"L":-168.2},{"f":5430000,"L":-167.4},{"f":5810000,"L":-168.4},{"f":6210000,"L":-167.6},{"f":6650000,"L":-168.6},{"f":7110000,"L":-167.8},{"f":7610000,"L":-168.8},{"f":8140000,"L":-168.0},{"f":8710000,"L":-169.0},{"f":9320000,"L":-168.2},{"f":10000000,"L":-167.5}
  ]},
  "mark": {"type": "line", "strokeWidth": 2.3, "clip": true},
  "encoding": {
    "x": {"field": "f", "type": "quantitative", "scale": {"type": "log", "domain": [1, 10000000], "nice": false},
      "axis": {"orient": "top", "values": [1, 10, 100, 1000, 10000, 100000, 1000000, 10000000],
        "labels": false, "tickSize": -19, "tickWidth": 2.5, "domainWidth": 2.5, "grid": false, "title": null}},
    "y": {"field": "L", "type": "quantitative", "scale": {"domain": [-180, -90], "nice": false, "zero": false},
      "axis": {"orient": "left", "labels": false, "ticks": false, "domain": false, "grid": false,
        "title": "(dBc/Hz)", "titleFontSize": 46.5, "titleAngle": 270, "titleX": -159, "titleY": 162.5, "titleAlign": "center", "titleBaseline": "alphabetic"}},
    "color": {"datum": "20 mA", "type": "nominal", "scale": {"domain": ["6 mA", "11 mA", "20 mA", "BOC (fully locked)"], "range": ["#000000", "#ff0000", "#00ff00", "#0000ff"]}}
  }
},
{
  "data": {"values": [
{"f":1.0,"L":-110.5},{"f":1.087,"L":-112.9},{"f":1.166,"L":-114.2},{"f":1.25,"L":-114.7},{"f":1.341,"L":-114.3},{"f":1.458,"L":-115.4},{"f":1.607,"L":-118.2},{"f":1.723,"L":-121.4},{"f":1.848,"L":-122.1},{"f":1.927,"L":-123.9},{"f":2.066,"L":-124.4},{"f":2.185,"L":-126.0},{"f":2.279,"L":-129.5},{"f":2.376,"L":-132.0},{"f":2.5,"L":-133.2},{"f":2.62,"L":-133.8},{"f":2.809,"L":-131.7},{"f":2.9,"L":-134.5},{"f":3.012,"L":-135.2},{"f":3.229,"L":-131.7},{"f":3.462,"L":-138.1},{"f":3.611,"L":-140.9},{"f":3.871,"L":-138.7},{"f":4.05,"L":-142.0},{"f":4.269,"L":-145.1},{"f":4.577,"L":-140.2},{"f":4.85,"L":-143.5},{"f":5.119,"L":-142.3},{"f":5.488,"L":-139.8},{"f":5.75,"L":-143.0},{"f":6.05,"L":-142.3},{"f":6.35,"L":-139.5},{"f":6.673,"L":-137.7},{"f":6.95,"L":-143.0},{"f":7.255,"L":-145.5},{"f":7.781,"L":-149.3},{"f":8.0,"L":-141.5},{"f":8.228,"L":-139.1},{"f":8.5,"L":-145.0},{"f":8.822,"L":-143.7},{"f":9.2,"L":-142.0},{"f":9.59,"L":-147.2},{"f":10.0,"L":-144.0},{"f":10.28,"L":-140.2},{"f":10.6,"L":-146.5},{"f":11.03,"L":-148.0},{"f":11.5,"L":-144.5},{"f":12.16,"L":-143.7},{"f":12.7,"L":-149.0},{"f":13.41,"L":-146.6},{"f":13.9,"L":-145.0},{"f":14.38,"L":-150.4},{"f":14.9,"L":-146.0},{"f":15.41,"L":-142.3},{"f":16.0,"L":-149.0},{"f":16.76,"L":-148.0},{"f":17.5,"L":-145.0},{"f":18.0,"L":-150.5},{"f":18.5,"L":-153.6},{"f":19.0,"L":-146.0},{"f":19.6,"L":-150.5},{"f":20.3,"L":-144.0},{"f":21.0,"L":-148.5},{"f":21.8,"L":-145.5},{"f":22.6,"L":-151.0},{"f":23.4,"L":-146.0},{"f":24.2,"L":-149.0},{"f":25.0,"L":-145.5},{"f":26.0,"L":-148.5},{"f":27.0,"L":-144.5},{"f":27.8,"L":-138.0},{"f":28.5,"L":-131.0},{"f":28.8,"L":-140.0},{"f":29.1,"L":-120.5},{"f":29.4,"L":-138.0},
{"f":30.1,"L":-140.0},{"f":31.3,"L":-137.0},{"f":31.6,"L":-133.8},{"f":32.0,"L":-141.0},{"f":33.2,"L":-144.5},{"f":34.8,"L":-139.5},{"f":36.5,"L":-148.0},{"f":38.3,"L":-143.0},{"f":40.2,"L":-151.5},{"f":42.2,"L":-145.0},{"f":44.2,"L":-150.0},{"f":46.4,"L":-144.0},{"f":48.7,"L":-152.0},{"f":49.6,"L":-146.0},{"f":50.0,"L":-121.0},{"f":50.4,"L":-147.0},{"f":51.1,"L":-146.0},{"f":53.6,"L":-153.0},{"f":56.2,"L":-145.5},{"f":59.0,"L":-151.0},{"f":61.9,"L":-147.0},{"f":64.9,"L":-154.0},{"f":68.1,"L":-146.5},{"f":71.5,"L":-155.2},{"f":75.0,"L":-148.0},{"f":78.7,"L":-152.5},{"f":82.5,"L":-144.0},{"f":86.6,"L":-153.5},{"f":90.9,"L":-147.0},{"f":95.3,"L":-150.5},{"f":100.2,"L":-143.0},{"f":101,"L":-130.1},{"f":101.8,"L":-146.0},{"f":105,"L":-147.0},{"f":110,"L":-149.0},{"f":115,"L":-147.5},{"f":121,"L":-149.3},{"f":127,"L":-148.0},{"f":133,"L":-150.6},{"f":140,"L":-148.0},{"f":147,"L":-149.0},{"f":153,"L":-148.0},{"f":155,"L":-138.6},{"f":157,"L":-147.0},{"f":162,"L":-146.0},{"f":169,"L":-148.2},{"f":178,"L":-146.5},{"f":187,"L":-147.8},{"f":196,"L":-145.0},{"f":200,"L":-146.0},{"f":201,"L":-141.3},{"f":202,"L":-146.5},{"f":205,"L":-147.5},{"f":215,"L":-146.0},{"f":226,"L":-147.5},{"f":237,"L":-145.5},{"f":249,"L":-146.5},{"f":251,"L":-137.7},{"f":253,"L":-145.0},{"f":261,"L":-144.0},{"f":274,"L":-146.5},{"f":287,"L":-145.0},{"f":291,"L":-146.0},{"f":293,"L":-139.0},{"f":295,"L":-145.5},{"f":301,"L":-146.0},{"f":316,"L":-143.5},{"f":332,"L":-145.5},{"f":348,"L":-143.0},{"f":365,"L":-145.0},{"f":383,"L":-142.5},{"f":402,"L":-144.0},{"f":422,"L":-141.0},{"f":437,"L":-141.0},{"f":440,"L":-136.0},{"f":443,"L":-140.5},{"f":464,"L":-138.5},{"f":487,"L":-141.5},{"f":511,"L":-139.0},{"f":536,"L":-141.0},{"f":562,"L":-138.5},{"f":590,"L":-142.0},{"f":619,"L":-139.5},{"f":649,"L":-141.5},{"f":681,"L":-139.0},{"f":697,"L":-140.0},{"f":700,"L":-132.8},{"f":703,"L":-140.5},{"f":715,"L":-141.0},{"f":750,"L":-139.5},{"f":787,"L":-142.0},{"f":818,"L":-141.5},{"f":823,"L":-123.2},{"f":828,"L":-141.0},{"f":866,"L":-143.0},{"f":909,"L":-141.0},{"f":940,"L":-142.0},{"f":946,"L":-127.8},{"f":952,"L":-141.5},{"f":1000,"L":-142.0},{"f":1050,"L":-144.5},{"f":1100,"L":-142.5},{"f":1150,"L":-144.0},{"f":1160,"L":-143.5},{"f":1167,"L":-130.1},{"f":1175,"L":-143.0},{"f":1210,"L":-142.0},{"f":1270,"L":-144.4},{"f":1330,"L":-142.5},{"f":1400,"L":-144.0},{"f":1470,"L":-142.0},
{"f":1540,"L":-141.0},{"f":1650,"L":-137.7},{"f":1760,"L":-139.0},{"f":1880,"L":-138.0},{"f":2010,"L":-139.5},{"f":2150,"L":-138.5},{"f":2300,"L":-139.8},{"f":2460,"L":-139.0},{"f":2630,"L":-140.2},{"f":2810,"L":-139.3},{"f":3010,"L":-140.5},{"f":3220,"L":-139.6},{"f":3440,"L":-140.8},{"f":3680,"L":-140.0},{"f":3940,"L":-141.0},{"f":4210,"L":-140.2},{"f":4500,"L":-141.2},{"f":4820,"L":-140.4},{"f":5150,"L":-141.4},{"f":5510,"L":-140.6},{"f":5900,"L":-141.6},{"f":6310,"L":-140.8},{"f":6750,"L":-141.8},{"f":7220,"L":-141.0},{"f":7720,"L":-142.0},{"f":8260,"L":-141.2},{"f":8840,"L":-142.3},{"f":9460,"L":-141.4},{"f":10100,"L":-142.5},{"f":10800,"L":-141.6},{"f":11600,"L":-142.8},{"f":12400,"L":-141.9},{"f":13300,"L":-143.0},{"f":14200,"L":-142.1},{"f":15200,"L":-143.2},{"f":16200,"L":-142.3},{"f":17400,"L":-143.6},{"f":18600,"L":-142.5},{"f":19900,"L":-143.8},{"f":21300,"L":-142.0},{"f":22800,"L":-143.5},{"f":24400,"L":-140.5},{"f":26100,"L":-142.5},{"f":27900,"L":-140.0},{"f":29800,"L":-142.8},{"f":31900,"L":-141.0},{"f":34100,"L":-143.0},{"f":36500,"L":-141.5},{"f":39100,"L":-143.0},{"f":41800,"L":-141.5},{"f":44700,"L":-138.0},
{"f":47800,"L":-142.0},{"f":51200,"L":-147.0},{"f":54800,"L":-150.0},{"f":58600,"L":-152.5},{"f":62700,"L":-151.0},{"f":67100,"L":-155.0},{"f":71800,"L":-154.0},{"f":76800,"L":-158.0},{"f":80000,"L":-156.0},{"f":82200,"L":-160.5},{"f":85000,"L":-163.0},{"f":87900,"L":-157.5},{"f":90000,"L":-161.0},{"f":92000,"L":-167.3},{"f":94100,"L":-159.5},{"f":97000,"L":-163.5},{"f":100700,"L":-161.0},{"f":105000,"L":-168.3},{"f":112000,"L":-169.0},{"f":120000,"L":-172.0},{"f":128000,"L":-174.5},{"f":136000,"L":-176.1},{"f":142000,"L":-175.5},{"f":148000,"L":-174.3},{"f":155000,"L":-177.0},{"f":163000,"L":-180.5},{"f":170000,"L":-183.0}
  ]},
  "mark": {"type": "line", "strokeWidth": 2.3, "clip": true},
  "encoding": {
    "x": {"field": "f", "type": "quantitative", "scale": {"type": "log", "domain": [1, 10000000], "nice": false},
      "axis": {"orient": "top", "values": [2,3,4,5,6,7,8,9,20,30,40,50,60,70,80,90,200,300,400,500,600,700,800,900,2000,3000,4000,5000,6000,7000,8000,9000,20000,30000,40000,50000,60000,70000,80000,90000,200000,300000,400000,500000,600000,700000,800000,900000,2000000,3000000,4000000,5000000,6000000,7000000,8000000,9000000],
        "labels": false, "domain": false, "tickSize": -10, "tickWidth": 2, "grid": false, "title": null}},
    "y": {"field": "L", "type": "quantitative", "scale": {"domain": [-180, -90], "nice": false, "zero": false},
      "axis": {"orient": "right", "values": [-175,-170,-165,-160,-155,-150,-145,-140,-135,-130,-125,-120,-115,-110,-105,-100,-95],
        "labels": false, "tickSize": -17, "tickWidth": 2.5, "domainWidth": 2.5, "grid": false, "title": null}},
    "color": {"datum": "BOC (fully locked)", "type": "nominal", "scale": {"domain": ["6 mA", "11 mA", "20 mA", "BOC (fully locked)"], "range": ["#000000", "#ff0000", "#00ff00", "#0000ff"]}}
  }
},
{
  "data": {"values": [
    {"f": 1.927, "L": -168.65, "t": "Both oscillators contribute"},
    {"f": 1.927, "L": -173.6, "t": "to the measured phase noise"}
  ]},
  "mark": {"type": "text", "align": "left", "baseline": "alphabetic", "font": "Liberation Sans", "fontSize": 37.5, "fontStyle": "italic", "color": "#111"},
  "encoding": {
    "x": {"field": "f", "type": "quantitative", "scale": {"type": "log", "domain": [1, 10000000], "nice": false}, "axis": null},
    "y": {"field": "L", "type": "quantitative", "scale": {"domain": [-180, -90], "nice": false, "zero": false}, "axis": null},
    "text": {"field": "t"}
  }
},
{
  "data": {"values": [{"f1": 11500000, "f2": 22000000, "L": -165.7}]},
  "mark": {"type": "rule", "color": "#000000", "strokeWidth": 3, "clip": false},
  "encoding": {
    "x": {"field": "f1", "type": "quantitative", "scale": {"type": "log", "domain": [1, 10000000], "nice": false}, "axis": null},
    "x2": {"field": "f2"},
    "y": {"field": "L", "type": "quantitative", "scale": {"domain": [-180, -90], "nice": false, "zero": false}, "axis": null}
  }
},
{
  "data": {"values": [{"f1": 11500000, "f2": 22000000, "L": -168.35}]},
  "mark": {"type": "rule", "color": "#ff0000", "strokeWidth": 3, "clip": false},
  "encoding": {
    "x": {"field": "f1", "type": "quantitative", "scale": {"type": "log", "domain": [1, 10000000], "nice": false}, "axis": null},
    "x2": {"field": "f2"},
    "y": {"field": "L", "type": "quantitative", "scale": {"domain": [-180, -90], "nice": false, "zero": false}, "axis": null}
  }
},
{
  "data": {"values": [{"f1": 11500000, "f2": 22000000, "L": -171.0}]},
  "mark": {"type": "rule", "color": "#00ff00", "strokeWidth": 3, "clip": false},
  "encoding": {
    "x": {"field": "f1", "type": "quantitative", "scale": {"type": "log", "domain": [1, 10000000], "nice": false}, "axis": null},
    "x2": {"field": "f2"},
    "y": {"field": "L", "type": "quantitative", "scale": {"domain": [-180, -90], "nice": false, "zero": false}, "axis": null}
  }
},
{
  "data": {"values": [{"f": 17970000, "L": -133.9, "t": "cw shot-noise limits"}]},
  "mark": {"type": "text", "angle": 270, "align": "center", "baseline": "alphabetic", "font": "Liberation Sans", "fontSize": 37, "color": "#111", "clip": false},
  "encoding": {
    "x": {"field": "f", "type": "quantitative", "scale": {"type": "log", "domain": [1, 10000000], "nice": false}, "axis": null},
    "y": {"field": "L", "type": "quantitative", "scale": {"domain": [-180, -90], "nice": false, "zero": false}, "axis": null},
    "text": {"field": "t"}
  }
},
{
  "data": {"values": [{"f": 16500000, "L1": -153.8, "L2": -160.0}]},
  "mark": {"type": "rule", "color": "#000", "strokeWidth": 1.5, "clip": false},
  "encoding": {
    "x": {"field": "f", "type": "quantitative", "scale": {"type": "log", "domain": [1, 10000000], "nice": false}, "axis": null},
    "y": {"field": "L1", "type": "quantitative", "scale": {"domain": [-180, -90], "nice": false, "zero": false}, "axis": null},
    "y2": {"field": "L2"}
  }
},
{
  "data": {"values": [{"f": 16500000, "L": -160.8}]},
  "mark": {"type": "point", "shape": "triangle-down", "filled": true, "color": "#000", "size": 180, "opacity": 1, "clip": false},
  "encoding": {
    "x": {"field": "f", "type": "quantitative", "scale": {"type": "log", "domain": [1, 10000000], "nice": false}, "axis": null},
    "y": {"field": "L", "type": "quantitative", "scale": {"domain": [-180, -90], "nice": false, "zero": false}, "axis": null}
  }
}
]
}
